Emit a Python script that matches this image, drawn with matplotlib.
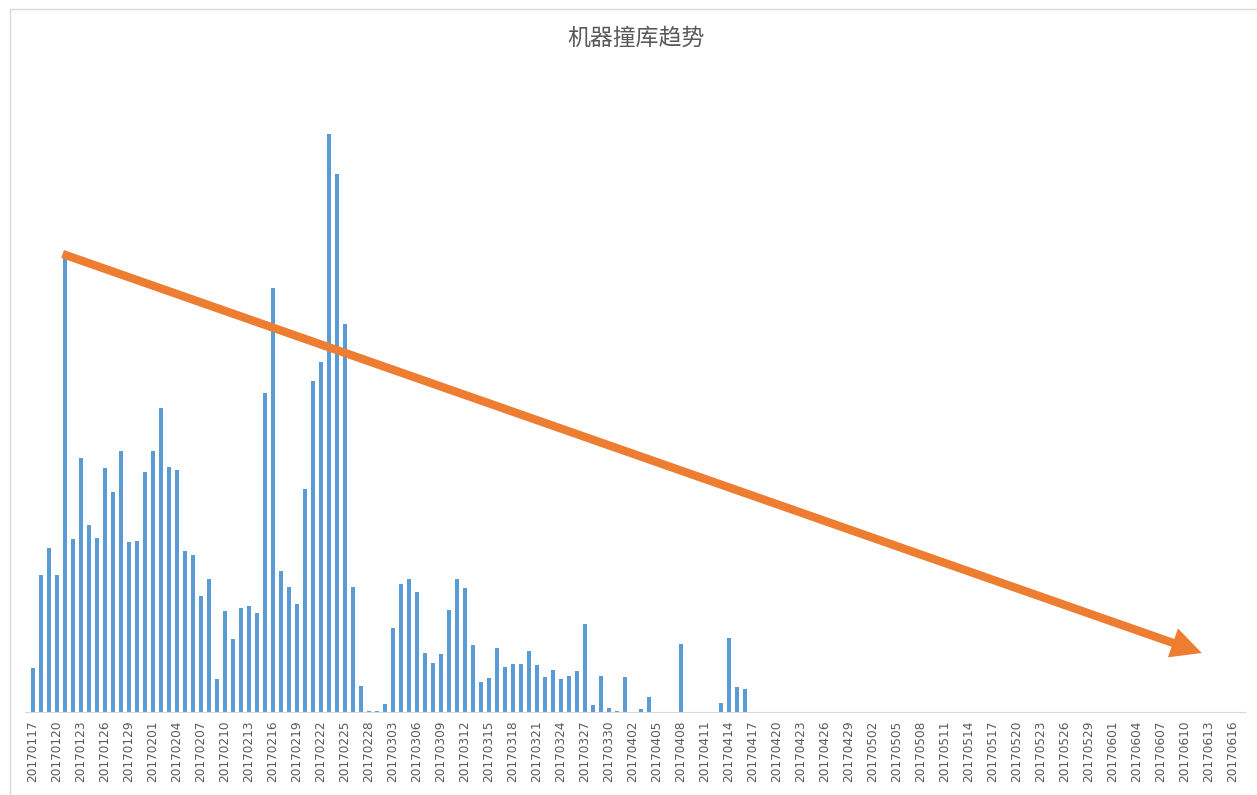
import numpy as np
import pandas as pd
import matplotlib.pyplot as plt
from matplotlib.patches import FancyArrowPatch, Rectangle

plt.rcParams['font.family'] = ['Noto Sans CJK SC', 'DejaVu Sans']

# ── Data ──────────────────────────────────────────────────────────────────
START_DATE = "2017-01-17"
END_DATE   = "2017-06-16"

# daily counts (relative units), 17 Jan .. 16 Apr
COUNTS_JAN_APR = [
    44, 137, 164, 137, 454, 173, 254, 187, 174, 244,
    220, 261, 170, 171, 240, 261, 304, 245, 242, 161,
    157, 116, 133, 33, 101, 73, 104, 106, 99, 319,
    424, 141, 125, 108, 223, 331, 350, 578, 538, 388,
    125, 26, 1, 1, 8, 84, 128, 133, 120, 59,
    49, 58, 102, 133, 124, 67, 30, 34, 64, 45,
    48, 48, 61, 47, 35, 42, 33, 36, 41, 88,
    7, 36, 4, 1, 35, 0, 3, 15, 0, 0,
    0, 68, 0, 0, 0, 0, 9, 74, 25, 23,
]
# 17 Apr .. 16 Jun: no events
COUNTS_APR_JUN = [0] * 61

TITLE = "机器撞库趋势"
LABEL_STEP = 3

# trend arrow drawn over the chart (day index, value)
TREND_START = (3.7, 458)
TREND_END   = (146.1, 59)

BAR_COLOR   = "#5b9bd5"
ARROW_COLOR = "#ed7d31"
TEXT_COLOR  = "#595959"

# ── Plot ──────────────────────────────────────────────────────────────────
dates  = pd.date_range(START_DATE, END_DATE, freq="D")
counts = np.array(COUNTS_JAN_APR + COUNTS_APR_JUN)
x      = np.arange(len(dates))
labels = [d.strftime("%Y%m%d") for d in dates]

fig = plt.figure(figsize=(12.57, 7.95), dpi=100)
ax = fig.add_axes([25 / 1257, 83 / 795, 1220 / 1257, 647 / 795])

ax.bar(x, counts, width=0.38, color=BAR_COLOR)

ax.set_xlim(-1, len(dates) + 0.5)
ax.set_ylim(0, 647)
ax.set_yticks([])
ax.set_xticks(x[::LABEL_STEP])
ax.set_xticklabels(labels[::LABEL_STEP], rotation=90, fontsize=8.7,
                   color=TEXT_COLOR, family="DejaVu Sans")
ax.tick_params(axis="x", length=0, pad=6)
for side in ("left", "right", "top"):
    ax.spines[side].set_visible(False)
ax.spines["bottom"].set_color("#d9d9d9")

# filled arrow: ~8 px shaft, ~30 px wide head (mutation_scale 10 pt ≈ 13.9 px)
arrow = FancyArrowPatch(TREND_START, TREND_END,
                        arrowstyle="simple,head_length=2.2,head_width=2.2,tail_width=0.6",
                        mutation_scale=10, linewidth=0, color=ARROW_COLOR,
                        shrinkA=0, shrinkB=0, zorder=5)
ax.add_patch(arrow)

fig.text(0.506, 0.952, TITLE, ha="center", va="center",
         fontsize=16.5, color=TEXT_COLOR)

# light chart border
fig.patches.append(Rectangle((10 / 1257, -0.01), 1.0, 0.999,
                             transform=fig.transFigure, fill=False,
                             edgecolor="#d9d9d9", linewidth=1))

fig.savefig("out.png", dpi=100)
